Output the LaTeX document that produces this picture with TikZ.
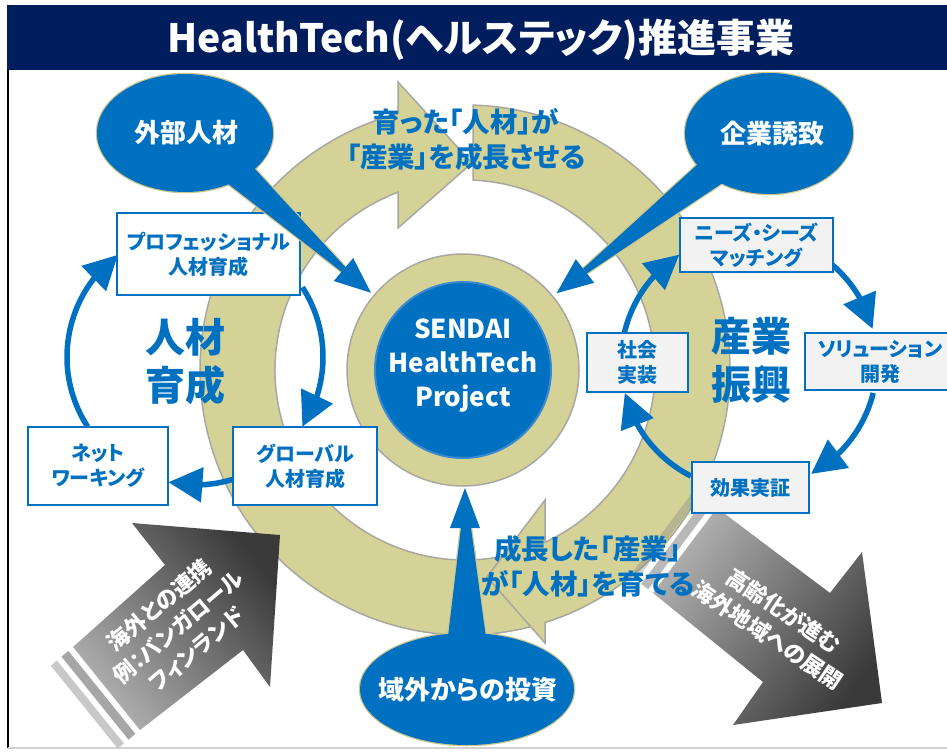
\documentclass[tikz,border=0pt]{standalone}
\usepackage{fontspec}
\setmainfont{Noto Sans CJK JP}[RawFeature=+palt]
\usetikzlibrary{arrows.meta,bending,shapes.geometric}
\definecolor{navy}{HTML}{001E5E}
\definecolor{blueM}{HTML}{0070C0}
\definecolor{blueE}{HTML}{3A8AD0}
\definecolor{ringF}{HTML}{D5D298}
\definecolor{ringB}{HTML}{A8A8A0}
\definecolor{goldE}{HTML}{CFC68E}
\definecolor{boxG}{HTML}{F2F2F2}
\definecolor{darkG}{HTML}{3A3A3A}
\definecolor{lightG}{HTML}{B0B0B0}
\definecolor{strA}{HTML}{A6A6A6}
\definecolor{strB}{HTML}{C8C8C8}
\tikzset{
  cyc/.style={draw=blueM, line width=5.5pt, -{Triangle[length=34pt,width=34pt]}},
  bxW/.style={draw=blueM, line width=2pt, fill=white, text=blueM, align=center, inner sep=0pt, font=\bfseries\fontsize{20}{25}\selectfont},
  bxG/.style={bxW, fill=boxG},
  bigtxt/.style={text=blueM, align=center, font=\bfseries\fontsize{40}{48}\selectfont},
  ringtxt/.style={text=blueM, align=center, font=\bfseries\fontsize{27.5}{35}\selectfont},
  elltxt/.style={text=white, font=\bfseries\fontsize{26}{30}\selectfont},
  callE/.style={draw=goldE, line width=2.5pt, fill=blueM},
  ringA/.style={fill=ringF, draw=ringB, line width=1.5pt},
  arrtxt/.style={text=white, align=center, font=\bfseries\fontsize{22}{29}\selectfont},
}
\begin{document}
\begin{tikzpicture}[x=1pt,y=-1pt]
\useasboundingbox (0,0) rectangle (947,752);
\fill[white] (0,0) rectangle (947,752);
% title
\fill[navy] (7,5) rectangle (947,70);
\node[text=white, font=\bfseries\fontsize{39}{46}\selectfont] (title) at (481,40) {HealthTech(ヘルステック)推進事業};
\draw[black, line width=1.5pt] (8,70) -- (8,748);
\draw[black!18, line width=2pt] (8,748) -- (947,748);
% ring arrows
\draw[ringA] (538.04,624.73) arc[start angle=74,end angle=255.36,radius=265] -- (398,82) -- (472,163) -- (398,228) -- (398,192.2) arc[start angle=249.35,end angle=74,radius=190] -- cycle;
\draw[ringA] (473,105.1) arc[start angle=-88.27,end angle=72.43,radius=265] -- (545,643) -- (487,577) -- (545,500) -- (545,542.3) arc[start angle=65.10,end angle=-87.59,radius=190] -- cycle;
% centre
\draw[ringA] (463,370) circle[radius=116];
\draw[fill=blueM, draw=blueE, line width=2pt] (463,370) circle[radius=88];
\node[text=white, align=center, font=\bfseries\fontsize{26}{34}\selectfont] (proj) at (463,366) {SENDAI\\HealthTech\\Project};
% dark arrows
\shade[top color=darkG, bottom color=lightG, shading angle=-49.5] (280,535) -- (132,523) -- (165,565) -- (73,647) -- (140,730) -- (243,650) -- (270,687) -- cycle;
\fill[strA] (68.4,650.9) -- (135.4,733.9) -- (128.5,739.6) -- (61.5,656.6) -- cycle;
\fill[strB] (56.9,660.5) -- (123.9,743.5) -- (117.8,748.6) -- (50.8,665.6) -- cycle;
\shade[top color=darkG, bottom color=lightG, shading angle=-127.6] (862,552) -- (882,703) -- (733,725) -- (763,682) -- (653,593) -- (717,508) -- (830,593) -- cycle;
\fill[gray, opacity=0.55] (712.3,504.3) -- (648.3,589.3) -- (641.2,583.9) -- (705.2,498.9) -- cycle;
\fill[gray, opacity=0.35] (700.4,495.2) -- (636.4,580.2) -- (630.1,575.3) -- (694.1,490.3) -- cycle;
\node[arrtxt, rotate=40] (ltxt) at (178,627) {海外との連携\\例：バンガロール\\フィンランド};
\node[arrtxt, rotate=-34] (rtxt) at (776,623) {高齢化が進む\\海外地域への展開};
% left cycle
\coordinate (cL) at (195,357);
\coordinate (cR) at (749,362);
\draw[cyc] (cL) ++(-33:128) arc[start angle=-33,end angle=33,radius=128];
\draw[cyc] (cL) ++(73:128) arc[start angle=73,end angle=102,radius=128];
\draw[cyc] (cL) ++(147:128) arc[start angle=147,end angle=233,radius=128];
\node[bxW, minimum width=183pt, minimum height=82pt] (pro) at (208.5,254) {プロフェッショナル\\人材育成};
\node[bxW, minimum width=140pt, minimum height=78pt] (net) at (98,466) {ネット\\ワーキング};
\node[bxW, minimum width=144pt, minimum height=78pt] (glob) at (305,466) {グローバル\\人材育成};
% right cycle
\draw[cyc] (cR) ++(-50:128) arc[start angle=-50,end angle=-15,radius=128];
\draw[cyc] (cR) ++(14:128) arc[start angle=14,end angle=61,radius=128];
\draw[cyc] (cR) ++(117:128) arc[start angle=117,end angle=166,radius=128];
\draw[cyc] (cR) ++(193:128) arc[start angle=193,end angle=237,radius=128];
\node[bxG, minimum width=153pt, minimum height=54pt] (needs) at (756.5,245) {ニーズ・シーズ\\マッチング};
\node[bxG, minimum width=150pt, minimum height=57pt] (sol) at (880,361.5) {ソリューション\\開発};
\node[bxG, minimum width=101pt, minimum height=59pt] (soc) at (637.5,362.5) {社会\\実装};
\node[bxG, minimum width=117pt, minimum height=51pt] (kouka) at (750.5,487.5) {効果実証};
\node[bigtxt] (jz) at (185,362) {人材\\育成};
\node[bigtxt] (sg) at (751,360) {産業\\振興};
% callouts
\draw[callE] (185,133) ellipse[x radius=88, y radius=59];
\draw[callE] (254,168) -- (345.4,267.2) -- (341.6,271.8) -- (227,183) -- cycle;
\fill[blueM] (185,133) ellipse[x radius=88, y radius=59];
\fill[blueM] (254,168) -- (345.4,267.2) -- (341.6,271.8) -- (227,183) -- cycle;
\fill[blueM] (353.2,258) -- (371,292.8) -- (333.8,281) -- cycle;
\node[elltxt] (gaibu) at (186,133) {外部人材};
\draw[callE] (769,133.5) ellipse[x radius=84, y radius=60.5];
\draw[callE] (698,164) -- (583.2,268.6) -- (586.8,273.4) -- (724,182) -- cycle;
\fill[blueM] (769,133.5) ellipse[x radius=84, y radius=60.5];
\fill[blueM] (698,164) -- (583.2,268.6) -- (586.8,273.4) -- (724,182) -- cycle;
\fill[blueM] (594.2,282.8) -- (556.6,293.2) -- (575.8,259.2) -- cycle;
\node[elltxt] (kigyo) at (772,134) {企業誘致};
\draw[callE] (467,689) ellipse[x radius=107, y radius=56];
\draw[callE] (447,645) -- (461,528) -- (471,528) -- (487,645) -- cycle;
\fill[blueM] (467,689) ellipse[x radius=107, y radius=56];
\fill[blueM] (447,645) -- (461,528) -- (471,528) -- (487,645) -- cycle;
\fill[blueM] (450,528) -- (465,488) -- (480,528) -- cycle;
\node[elltxt] (ikigai) at (468,690) {域外からの投資};
% ring texts
\node[ringtxt] (rt1) at (466,139) {育った「人材」が\\「産業」を成長させる};
\node[ringtxt] (rt2) at (588,566) {成長した「産業」\\が「人材」を育てる};
\end{tikzpicture}
\end{document}
